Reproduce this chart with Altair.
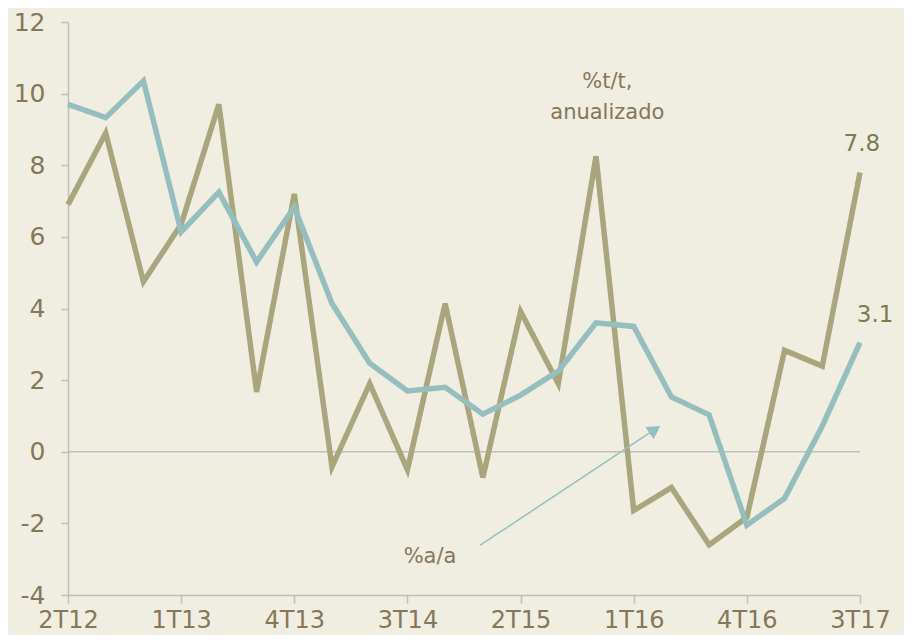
import altair as alt
import pandas as pd

quarters = ["2T12", "3T12", "4T12", "1T13", "2T13", "3T13", "4T13", "1T14", "2T14", "3T14", "4T14",
            "1T15", "2T15", "3T15", "4T15", "1T16", "2T16", "3T16", "4T16", "1T17", "2T17", "3T17"]
qoq_annualized = [6.9, 8.9, 4.75, 6.35, 9.7, 1.67, 7.2, -0.42, 1.9, -0.5, 4.14,
                  -0.72, 3.92, 1.9, 8.25, -1.64, -1.0, -2.6, -1.83, 2.83, 2.39, 7.8]
yoy = [9.7, 9.33, 10.36, 6.14, 7.25, 5.3, 6.83, 4.14, 2.47, 1.7, 1.8,
       1.05, 1.58, 2.25, 3.6, 3.5, 1.53, 1.03, -2.05, -1.3, 0.72, 3.05]
tick_quarters = quarters[::3]

idx = list(range(len(quarters)))
df_qoq = pd.DataFrame({"i": idx, "v": qoq_annualized})
df_yoy = pd.DataFrame({"i": idx, "v": yoy})

BG = "#F0EEE1"
OLIVE = "#A9A67E"
TEAL = "#95BFBF"
TXT = "#857758"
GRAY = "#BFBFBF"
FONT = "DejaVu Sans"

label_array = "[" + ",".join("'" + q + "'" for q in quarters) + "]"

x_enc = alt.X("i:Q", scale=alt.Scale(domain=[0, len(quarters) - 1], nice=False, zero=False),
              axis=alt.Axis(values=list(range(0, len(quarters), 3)), labelExpr=label_array + "[datum.value]",
                            title=None, grid=False, domainColor=GRAY, domainWidth=1.5, tickColor=GRAY,
                            tickWidth=1.5, tickSize=8, labelPadding=5, labelFontSize=24,
                            labelColor=TXT, labelFont=FONT, labelFlush=False))
y_scale = alt.Scale(domain=[-4, 12], nice=False)
y_enc = alt.Y("v:Q", scale=y_scale,
              axis=alt.Axis(values=list(range(-4, 13, 2)), labelExpr="'' + datum.value",
                            title=None, grid=False, domainColor=GRAY,
                            domainWidth=1.5, tickColor=GRAY, tickWidth=1.5, tickSize=7, labelPadding=16,
                            labelFontSize=25, labelColor=TXT, labelFont=FONT))

zero_df = pd.DataFrame({"i": [0], "i2": [len(quarters) - 1], "v": [0]})
zero = alt.Chart(zero_df).mark_rule(color=GRAY, strokeWidth=1.5).encode(
    x=x_enc, x2="i2:Q", y=alt.Y("v:Q", scale=y_scale))

l_qoq = alt.Chart(df_qoq).mark_line(color=OLIVE, strokeWidth=5.5).encode(x=x_enc, y=y_enc)
l_yoy = alt.Chart(df_yoy).mark_line(color=TEAL, strokeWidth=5.5).encode(x=x_enc, y=y_enc)

# arrow
arrow_df = pd.DataFrame({"i": [10.93], "v": [-2.61], "i2": [15.55], "v2": [0.62]})
arrow_line = alt.Chart(arrow_df).mark_rule(color=TEAL, strokeWidth=1.5).encode(
    x=alt.X("i:Q"), y=alt.Y("v:Q"), x2="i2:Q", y2="v2:Q")
head_df = pd.DataFrame({"i": [15.56], "v": [0.62]})
arrow_head = alt.Chart(head_df).mark_point(shape="triangle-up", filled=True, color=TEAL, size=220,
                                           angle=56, opacity=1).encode(x="i:Q", y="v:Q")

# text annotations
ann_df = pd.DataFrame({
    "i": [14.3, 14.3, 9.6],
    "v": [10.15, 9.3, -3.1],
    "t": ["%t/t,", "anualizado", "%a/a"],
})
ann = alt.Chart(ann_df).mark_text(font=FONT, fontSize=21, color=TXT, align="center",
                                  baseline="alphabetic").encode(x="i:Q", y="v:Q", text="t:N")

end_df = pd.DataFrame({"i": [21.05, 21.4], "v": [8.4, 3.63], "t": ["7.8", "3.1"]})
ends = alt.Chart(end_df).mark_text(font=FONT, fontSize=23, color="#7E7A52", align="center",
                                   baseline="alphabetic").encode(x="i:Q", y="v:Q", text="t:N")

chart = alt.layer(zero, l_qoq, l_yoy, arrow_line, arrow_head, ann, ends).properties(
    width=792, height=573,
    background=BG,
    padding={"left": 60, "top": 14, "right": 44, "bottom": 40},
    autosize=alt.AutoSizeParams(type="none"),
).configure_view(strokeWidth=0)

chart.save("out.html", embed_options={"renderer": "svg", "actions": False})
